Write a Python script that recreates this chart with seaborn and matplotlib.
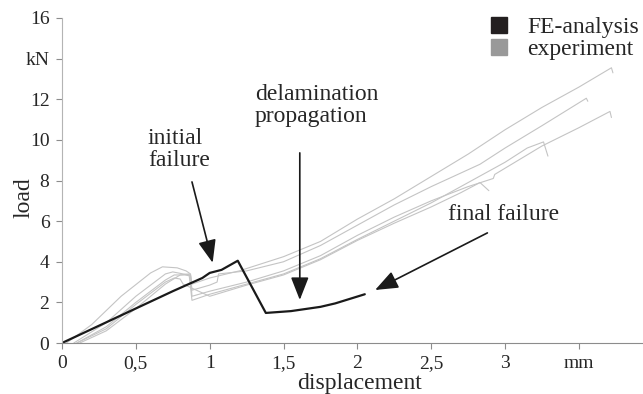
import matplotlib
matplotlib.use("Agg")
import matplotlib.pyplot as plt
import seaborn as sns
import pandas as pd
from matplotlib.lines import Line2D

# FE-analysis curve (displacement in mm, load in kN)
fe_disp = [0, 0.25, 0.5, 0.75, 0.95, 1.0, 1.08, 1.19, 1.38, 1.55, 1.75, 1.85, 2.05]
fe_load = [0, 0.85, 1.7, 2.55, 3.2, 3.45, 3.6, 4.05, 1.48, 1.57, 1.78, 1.95, 2.4]

# experiment curves
exp_a_disp = [0.03, 0.2, 0.4, 0.6, 0.68, 0.78, 0.84, 0.87, 0.88, 1.0, 1.2, 1.5, 1.75, 2.0, 2.25, 2.5, 2.75, 3.0, 3.25, 3.5, 3.72, 3.73]
exp_a_load = [0, 0.9, 2.3, 3.45, 3.75, 3.7, 3.55, 3.4, 2.9, 3.2, 3.55, 4.25, 5.0, 6.1, 7.1, 8.2, 9.3, 10.5, 11.6, 12.6, 13.55, 13.3]
exp_b_disp = [0.08, 0.3, 0.5, 0.7, 0.75, 0.82, 0.87, 0.88, 1.0, 1.05, 1.06, 1.25, 1.5, 1.75, 2.0, 2.25, 2.5, 2.83, 3.0, 3.25, 3.55, 3.56]
exp_b_load = [0, 1.0, 2.3, 3.4, 3.5, 3.4, 3.35, 2.6, 2.85, 3.0, 3.4, 3.55, 4.0, 4.8, 5.8, 6.8, 7.7, 8.8, 9.6, 10.7, 12.05, 11.9]
exp_c_disp = [0.1, 0.3, 0.5, 0.7, 0.76, 0.83, 0.87, 0.88, 1.0, 1.25, 1.5, 1.75, 2.0, 2.25, 2.5, 2.75, 2.92, 2.93, 3.25, 3.5, 3.71, 3.72]
exp_c_load = [0, 0.8, 2.0, 3.1, 3.35, 3.35, 3.3, 2.3, 2.55, 3.0, 3.55, 4.3, 5.3, 6.2, 7.0, 7.7, 8.1, 8.3, 9.7, 10.6, 11.4, 11.1]
exp_d_disp = [0.12, 0.3, 0.5, 0.7, 0.8, 0.86, 0.88, 1.0, 1.25, 1.5, 1.75, 2.0, 2.25, 2.5, 2.75, 3.0, 3.15, 3.26, 3.29]
exp_d_load = [0, 0.6, 1.7, 2.9, 3.35, 3.4, 2.1, 2.4, 2.9, 3.4, 4.15, 5.1, 6.0, 6.9, 7.9, 8.9, 9.6, 9.9, 9.2]
exp_e_disp = [0.1, 0.3, 0.5, 0.7, 0.76, 0.8, 0.82, 1.0, 1.25, 1.5, 1.75, 2.0, 2.25, 2.5, 2.7, 2.83, 2.89]
exp_e_load = [0, 0.7, 1.9, 3.0, 3.2, 3.15, 2.9, 2.3, 2.85, 3.35, 4.1, 5.05, 5.9, 6.7, 7.4, 7.9, 7.5]

x_ticks = [0, 0.5, 1, 1.5, 2, 2.5, 3, 3.5]
x_labels = ["0", "0,5", "1", "1,5", "2", "2,5", "3", "mm"]
y_ticks = [0, 2, 4, 6, 8, 10, 12, 14, 16]
y_labels = ["0", "2", "4", "6", "8", "10", "12", "kN", "16"]

sns.set_style("ticks")
plt.rcParams["font.family"] = ["Liberation Serif", "DejaVu Serif"]

exp_sets = [(exp_a_disp, exp_a_load), (exp_b_disp, exp_b_load), (exp_c_disp, exp_c_load),
            (exp_d_disp, exp_d_load), (exp_e_disp, exp_e_load)]
frames = []
for i, (d, l) in enumerate(exp_sets):
  frames.append(pd.DataFrame({"disp": d, "load": l, "specimen": i}))
exp_df = pd.concat(frames, ignore_index=True)
fe_df = pd.DataFrame({"disp": fe_disp, "load": fe_load})

fig = plt.figure(figsize=(6.43, 3.94), dpi=100)
ax = fig.add_axes([62 / 643, 1 - 343 / 394, 1 - 62 / 643, (343 - 18) / 394])

sns.lineplot(data=exp_df, x="disp", y="load", units="specimen", estimator=None, sort=False,
             color="#c4c4c4", linewidth=0.8, ax=ax)
sns.lineplot(data=fe_df, x="disp", y="load", sort=False, color="#1a1a1a", linewidth=1.6, ax=ax)

ax.set_xlim(0, (643 - 62) / 147.7)
ax.set_ylim(0, 16)
ax.set_xticks(x_ticks)
ax.set_xticklabels(x_labels, fontsize=14)
ax.set_yticks(y_ticks)
ax.set_yticklabels(y_labels, fontsize=14)
ax.tick_params(axis="both", length=4, width=0.8, color="#8c8c8c", pad=5)
for s in ["top", "right"]:
  ax.spines[s].set_visible(False)
ax.spines["left"].set_color("#b4b4b4")
ax.spines["bottom"].set_color("#8c8c8c")
ax.set_xlabel("")
ax.set_ylabel("")

fig.text(360 / 643, 1 - 383 / 394, "displacement", fontsize=17, ha="center", va="center")
fig.text(24 / 643, 1 - 198 / 394, "load", fontsize=17, ha="center", va="center", rotation=90)

arrow = dict(arrowstyle="-|>,head_length=1.4,head_width=0.55", color="#1a1a1a", lw=1.2, shrinkA=0, shrinkB=0)
ax.annotate("", xy=(1.02, 3.95), xytext=(0.88, 7.93), arrowprops=arrow)
ax.annotate("", xy=(1.61, 2.12), xytext=(1.61, 9.36), arrowprops=arrow)
ax.annotate("", xy=(2.12, 2.61), xytext=(2.88, 5.42), arrowprops=arrow)

fig.text(148 / 643, 1 - 128 / 394, "initial\nfailure", fontsize=17, ha="left", va="top", linespacing=1.05)
fig.text(255 / 643, 1 - 84 / 394, "delamination\npropagation", fontsize=17, ha="left", va="top", linespacing=1.05)
fig.text(448 / 643, 1 - 215 / 394, "final failure", fontsize=17, ha="left", va="center")

handles = [Line2D([], [], marker="s", linestyle="", markersize=11, color="#231f20"),
           Line2D([], [], marker="s", linestyle="", markersize=11, color="#999999")]
fig.legend(handles, ["FE-analysis", "experiment"], loc="upper left", bbox_to_anchor=(475 / 643, 1 - 5 / 394),
           frameon=False, fontsize=17, handlelength=1.0, handletextpad=0.7, labelspacing=0.0, borderpad=0.0)

fig.savefig("out.png", dpi=100)
